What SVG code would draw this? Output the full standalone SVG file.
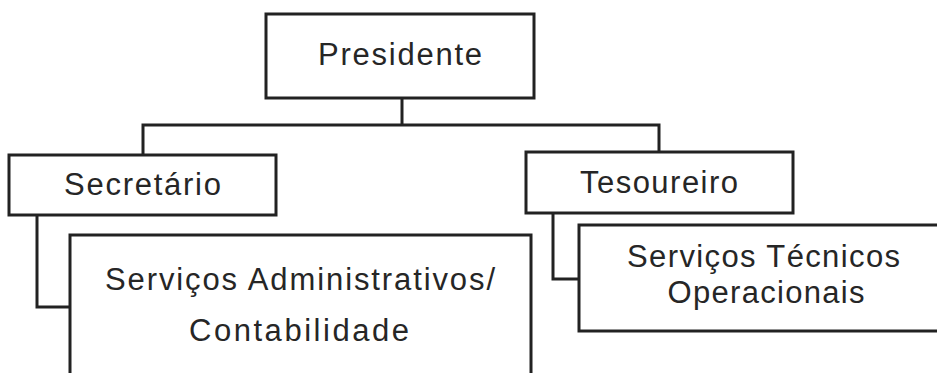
<svg xmlns="http://www.w3.org/2000/svg" width="937" height="373" viewBox="0 0 937 373">
<style>
.box{fill:#fff;stroke:#222;stroke-width:3}
.lbl{font-family:"Liberation Sans",Arial,sans-serif;font-size:31px;fill:#262626;text-anchor:middle}
.con{fill:none;stroke:#222;stroke-width:3}
</style>
<rect width="937" height="373" fill="#fff"/>
<g id="connectors">
<path class="con" d="M402,98 V125"/>
<path class="con" d="M143,155 V125 H659 V152"/>
<path class="con" d="M37,215 V307 H70"/>
<path class="con" d="M553,213 V279 H579"/>
</g>
<g id="presidente">
<rect class="box" x="266" y="14" width="268" height="84"/>
<text class="lbl" x="400" y="65" textLength="164" lengthAdjust="spacing">Presidente</text>
</g>
<g id="secretario">
<rect class="box" x="9" y="155" width="267" height="60"/>
<text class="lbl" x="142.5" y="195" textLength="157" lengthAdjust="spacing">Secretário</text>
</g>
<g id="tesoureiro">
<rect class="box" x="526" y="152" width="267" height="61"/>
<text class="lbl" x="659" y="193" textLength="158" lengthAdjust="spacing">Tesoureiro</text>
</g>
<g id="servicos-administrativos">
<rect class="box" x="70" y="235" width="461" height="160"/>
<text class="lbl" x="300" y="290" textLength="390" lengthAdjust="spacing">Serviços Administrativos/</text>
<text class="lbl" x="299" y="341" textLength="220" lengthAdjust="spacing">Contabilidade</text>
</g>
<g id="servicos-tecnicos">
<rect class="box" x="579" y="225" width="380" height="106"/>
<text class="lbl" x="763.5" y="267" textLength="273" lengthAdjust="spacing">Serviços Técnicos</text>
<text class="lbl" x="766" y="303" textLength="197" lengthAdjust="spacing">Operacionais</text>
</g>
</svg>
